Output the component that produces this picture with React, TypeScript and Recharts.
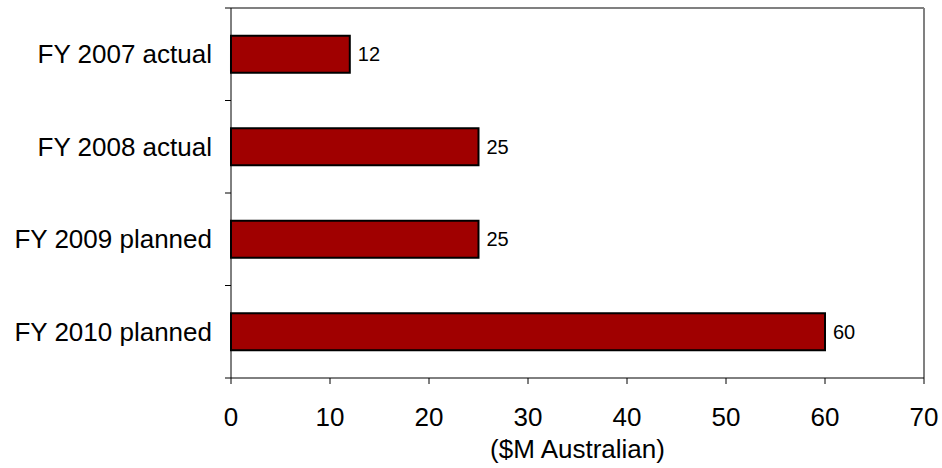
import React from 'react';
import { BarChart, Bar, XAxis, YAxis, LabelList, Label, CartesianGrid } from 'recharts';

const categories = ['FY 2007 actual', 'FY 2008 actual', 'FY 2009 planned', 'FY 2010 planned'];
const values = [12, 25, 25, 60];
const xTicks = [0, 10, 20, 30, 40, 50, 60, 70];

const data = categories.map((name, i) => ({ name, value: values[i] }));

const W = 942;
const H = 468;
const TOP = 8;
const X_AXIS_H = 90;
const FONT = '"Liberation Sans", Arial, sans-serif';
const BAND = (H - TOP - X_AXIS_H) / categories.length;

function CategoryTick(props: any) {
  const { x, y, payload, index } = props;
  const axisX = x + 6 + 13;
  const half = BAND / 2;
  return (
    <g>
      <line x1={axisX - 6} x2={axisX} y1={y - half} y2={y - half} stroke="#000" />
      {index === categories.length - 1 && (
        <line x1={axisX - 6} x2={axisX} y1={y + half} y2={y + half} stroke="#000" />
      )}
      <text x={x} y={y} dy="0.355em" textAnchor="end" fontSize={26} fontFamily={FONT} fill="#000">
        {payload.value}
      </text>
    </g>
  );
}

export default function App() {
  return (
    <div style={{ position: 'absolute', left: 0, top: 0, background: '#fff' }}>
      <BarChart
        width={W}
        height={H}
        data={data}
        layout="vertical"
        margin={{ top: TOP, right: 18, bottom: 0, left: 0 }}
        barCategoryGap="30%"
      >
        {/* gray frame on top and right of the plot */}
        <CartesianGrid
          stroke="#808080"
          strokeWidth={2}
          horizontalCoordinatesGenerator={({ offset }: any) => [offset.top]}
          verticalCoordinatesGenerator={({ offset }: any) => [offset.left + offset.width]}
        />
        <XAxis
          type="number"
          domain={[0, 70]}
          ticks={xTicks}
          interval={0}
          height={X_AXIS_H}
          tickSize={6}
          tickMargin={24}
          stroke="#000"
          axisLine={{ stroke: '#000' }}
          tickLine={{ stroke: '#000' }}
          tick={{ fontSize: 26, fontFamily: FONT, fill: '#000' }}
        >
          <Label
            value="($M Australian)"
            position="insideBottom"
            offset={10}
            style={{ fontSize: 26, fontFamily: FONT, fill: '#000' }}
          />
        </XAxis>
        <YAxis
          type="category"
          dataKey="name"
          width={231}
          tickSize={6}
          tickMargin={13}
          tickLine={false}
          axisLine={{ stroke: '#000' }}
          tick={<CategoryTick />}
          interval={0}
        />
        <Bar dataKey="value" fill="#A00000" stroke="#000" strokeWidth={2} isAnimationActive={false}>
          <LabelList
            dataKey="value"
            position="right"
            offset={8}
            style={{ fontSize: 20, fontFamily: FONT, fill: '#000' }}
          />
        </Bar>
      </BarChart>
    </div>
  );
}
